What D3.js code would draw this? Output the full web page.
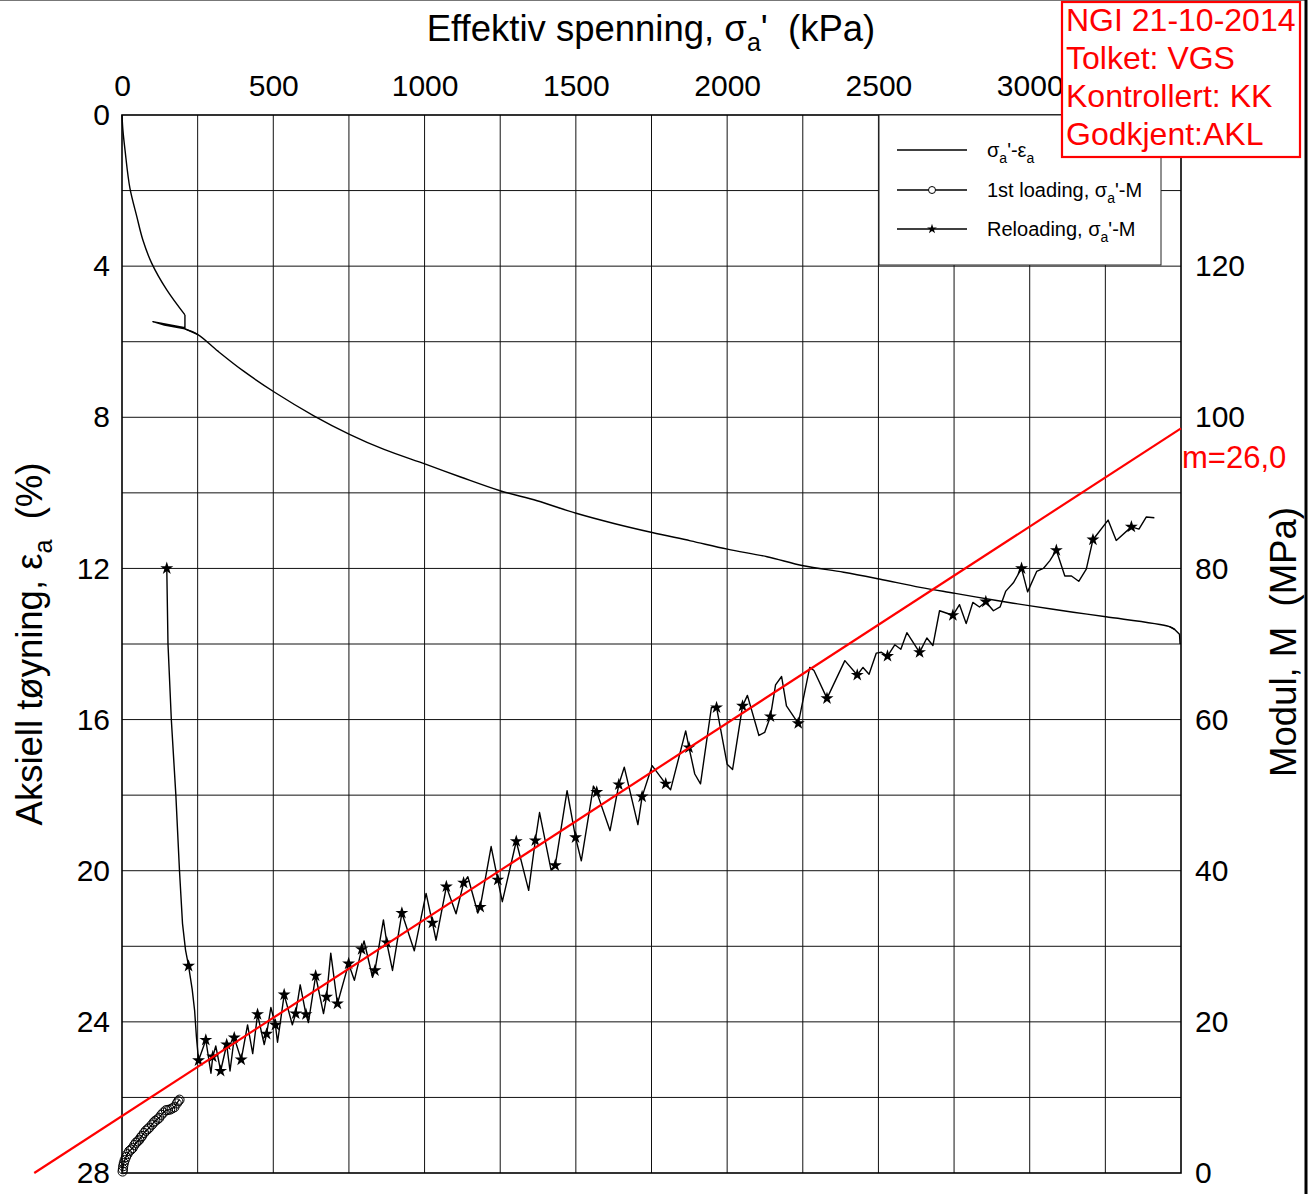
<!DOCTYPE html>
<html>
<head>
<meta charset="utf-8">
<script src="https://cdn.jsdelivr.net/npm/d3@7"></script>
<style>
  body { margin: 0; background: #fff; }
  svg { display: block; }
  text { font-family: "Liberation Sans", Arial, Helvetica, sans-serif; white-space: pre; }
</style>
</head>
<body>
<svg id="chart" width="1315" height="1194"></svg>
<script>
// ---- Oedometer test: stress-strain curve and constrained modulus ----

// Axis ticks (the top-right corner is taken by the stamp)
const stressTicks = [0, 500, 1000, 1500, 2000, 2500, 3000];
const strainTicks = [0, 4, 8, 12, 16, 20, 24, 28];
const modulusTicks = [0, 20, 40, 60, 80, 100, 120];

// Effective axial stress (kPa) vs axial strain (%)
const strainStress = [0, 3, 10, 26, 49, 69, 98, 148, 208, 208, 102, 140, 208, 251, 317, 402, 507, 634, 752, 866,
  1003, 1119, 1252, 1372, 1501, 1626, 1752, 1879, 2001, 2132, 2252, 2385, 2503, 2638, 2754, 2891, 3003, 3144, 3252, 3462,
  3480, 3495, 3497];
const strainPct = [0, 0.4, 0.93, 1.93, 2.69, 3.31, 3.92, 4.63, 5.29, 5.63, 5.47, 5.56, 5.66, 5.81, 6.25, 6.78, 7.35, 7.96, 8.45, 8.85,
  9.24, 9.58, 9.95, 10.21, 10.54, 10.81, 11.05, 11.27, 11.49, 11.69, 11.93, 12.10, 12.28, 12.50, 12.66, 12.85, 12.99, 13.16, 13.28, 13.54,
  13.62, 13.74, 14.0];
// index ranges of the curve: first loading, unload/reload loop, main loading, end of test
const strainSegments = [[0, 8, "smooth"], [8, 13, "linear"], [12, 40, "smooth"], [39, 42, "linear"]];

// 1st loading: stress (kPa) vs modulus (MPa)
const firstLoadStress = [2, 3, 4, 6, 9, 13, 18, 24, 30, 35, 41, 46, 52, 57, 62, 66, 73, 79, 85, 90,
  99, 105, 110, 117, 123, 130, 137, 145, 152, 159, 166, 173, 181, 186, 190];
const firstLoadModulus = [0.2, 0.5, 0.9, 1.3, 1.7, 2.1, 2.5, 2.9, 3.1, 3.3, 3.7, 4.0, 4.2, 4.4, 4.7, 4.9, 5.3, 5.6, 5.8, 6.0,
  6.4, 6.7, 6.9, 7.1, 7.3, 7.7, 8.0, 8.3, 8.35, 8.4, 8.55, 8.7, 9.2, 9.5, 9.7];

// Reloading: stress (kPa) vs modulus (MPa)
const reloadStress = [148, 152, 163, 178, 190, 200, 210, 220, 232, 240, 246, 253, 277, 294, 300, 310, 326, 346, 357, 371,
  394, 415, 432, 448, 470, 478, 492, 507, 514, 536, 563, 574, 589, 608, 616, 640, 666, 676, 690, 712,
  749, 768, 792, 800, 828, 836, 864, 875, 894, 925, 966, 1005, 1026, 1038, 1072, 1104, 1129, 1143, 1176, 1184,
  1220, 1242, 1257, 1303, 1344, 1366, 1380, 1418, 1432, 1471, 1499, 1518, 1558, 1569, 1613, 1642, 1660, 1705, 1719, 1752,
  1797, 1813, 1863, 1874, 1893, 1912, 1948, 1965, 2000, 2018, 2051, 2067, 2105, 2124, 2143, 2160, 2180, 2196, 2235, 2273,
  2287, 2330, 2389, 2430, 2449, 2469, 2493, 2510, 2530, 2554, 2574, 2594, 2636, 2660, 2680, 2702, 2724, 2746, 2768, 2790,
  2812, 2834, 2855, 2880, 2902, 2921, 2946, 2973, 2993, 3023, 3045, 3066, 3088, 3116, 3138, 3162, 3187, 3209, 3259, 3286,
  3336, 3361, 3385, 3412];
const reloadModulus = [80, 70, 60, 50, 40, 33, 29.5, 27.4, 24.3, 21.5, 18, 14.9, 17.6, 13.2, 15.4, 16.8, 13.5, 17.0, 13.5, 17.9,
  15.0, 19.6, 15.8, 21.0, 17.0, 18.4, 21.9, 19.6, 17.3, 23.6, 19.6, 21.1, 24.9, 21.0, 19.9, 26.1, 21.1, 23.3, 29.1, 22.4,
  27.7, 25.5, 29.6, 30.7, 25.9, 26.8, 33.5, 30.5, 26.8, 34.4, 29.4, 37.0, 33.1, 30.8, 37.9, 34.3, 38.4, 39.2, 34.4, 35.2,
  43.2, 38.8, 35.9, 43.9, 37.4, 44.0, 47.7, 40.1, 40.7, 50.6, 44.4, 41.3, 51.2, 50.4, 45.3, 51.4, 53.7, 46.1, 49.8, 53.9,
  51.5, 50.7, 58.5, 56.3, 52.8, 51.5, 61.6, 61.6, 54.1, 53.4, 61.8, 63.2, 57.9, 58.3, 60.4, 64.6, 65.7, 61.8, 59.5, 66.9,
  66.5, 62.8, 67.8, 65.9, 66.9, 66.0, 68.8, 68.9, 68.4, 69.9, 69.3, 71.5, 68.9, 70.8, 69.8, 74.4, 74.1, 73.8, 75.2, 72.7,
  75.5, 74.9, 75.6, 74.4, 74.9, 77.0, 78.1, 80.0, 76.9, 79.6, 80.0, 81.0, 82.4, 79.0, 79.0, 78.3, 79.9, 83.8, 86.4, 83.7,
  85.5, 85.2, 86.8, 86.7];
// reloading readings that carry a star marker
const reloadMarkerIdx = [0, 7, 11, 12, 14, 16, 17, 19, 20, 23, 25, 27, 29, 31, 33, 35, 37, 39, 40, 42, 45, 47, 49,
  52, 54, 56, 59, 61, 63, 65, 68, 70, 73, 75, 78, 80, 83, 87, 90, 94, 98, 101, 103, 108, 112, 117, 122, 127, 132, 137, 140];

// Modulus number line M = m (sigma' + a)
const modulusNumber = 26.0;      // m
const attraction = 290;          // a (kPa)
const lineStressEnd = 3500;

// Stamp text
const stampLines = ["NGI 21-10-2014", "Tolket: VGS", "Kontrollert: KK", "Godkjent:AKL"];

// ---- layout ----
const svg = d3.select("#chart");
const plotLeft = 122, plotRight = 1181, plotTop = 115, plotBottom = 1173;

const x = d3.scaleLinear().domain([0, 3500]).range([plotLeft, plotRight]);
const yS = d3.scaleLinear().domain([0, 28]).range([plotTop, plotBottom]);
const yM = d3.scaleLinear().domain([0, 140]).range([plotBottom, plotTop]);

// figure edges
svg.append("line").attr("x1", 0).attr("x2", 1307).attr("y1", 0.5).attr("y2", 0.5)
  .attr("stroke", "#777").attr("stroke-width", 1);
svg.append("line").attr("x1", 1306).attr("x2", 1306).attr("y1", 0).attr("y2", 1194)
  .attr("stroke", "#000").attr("stroke-width", 3);

// grid
const grid = svg.append("g").attr("stroke", "#111").attr("stroke-width", 1);
d3.range(250, 3500, 250).forEach(v => {
  grid.append("line").attr("x1", x(v)).attr("x2", x(v)).attr("y1", plotTop).attr("y2", plotBottom);
});
d3.range(2, 28, 2).forEach(v => {
  grid.append("line").attr("x1", plotLeft).attr("x2", plotRight).attr("y1", yS(v)).attr("y2", yS(v));
});

// plot frame
svg.append("rect").attr("x", plotLeft).attr("y", plotTop)
  .attr("width", plotRight - plotLeft).attr("height", plotBottom - plotTop)
  .attr("fill", "none").attr("stroke", "#000").attr("stroke-width", 1.6);

// axes (labels only)
function styleAxis(g) {
  g.select(".domain").remove();
  g.selectAll("line").remove();
  g.selectAll("text").attr("font-size", 30).attr("fill", "#000")
    .attr("font-family", "'Liberation Sans', Arial, sans-serif");
}
svg.append("g").attr("transform", `translate(0,${plotTop})`)
  .call(d3.axisTop(x).tickValues(stressTicks).tickSize(0).tickPadding(19).tickFormat(d3.format("d")))
  .call(styleAxis);
svg.append("g").attr("transform", `translate(${plotLeft},0)`)
  .call(d3.axisLeft(yS).tickValues(strainTicks).tickSize(0).tickPadding(12).tickFormat(d3.format("d")))
  .call(styleAxis);
svg.append("g").attr("transform", `translate(${plotRight},0)`)
  .call(d3.axisRight(yM).tickValues(modulusTicks).tickSize(0).tickPadding(14).tickFormat(d3.format("d")))
  .call(styleAxis);

// text with subscript parts
function richText(sel, parts, size) {
  const subSize = Math.round(size * 0.68);
  const shift = size * 0.28;
  parts.forEach(p => {
    const t = sel.append("tspan").text(p.t);
    if (p.sub) { t.attr("font-size", subSize).attr("dy", shift); }
    else { t.attr("font-size", size); if (p.after) t.attr("dy", -shift); }
  });
}

// axis titles
const titleSize = 36.5;
richText(svg.append("text").attr("x", 651).attr("y", 41).attr("text-anchor", "middle"),
  [{ t: "Effektiv spenning, σ" }, { t: "a", sub: true }, { t: "'  (kPa)", after: true }], titleSize);
richText(svg.append("text").attr("transform", "translate(42,644) rotate(-90)").attr("text-anchor", "middle"),
  [{ t: "Aksiell tøyning, ε" }, { t: "a", sub: true }, { t: "  (%)", after: true }], titleSize);
svg.append("text").attr("transform", "translate(1296,642) rotate(-90)").attr("text-anchor", "middle")
  .attr("font-size", titleSize).text("Modul, M  (MPa)");

// stress-strain curve, drawn piecewise: smooth loading branches, straight loop and end
const strainData = strainStress.map((s, i) => [s, strainPct[i]]);
strainSegments.forEach(([a, b, kind]) => {
  const gen = d3.line().x(d => x(d[0])).y(d => yS(d[1]))
    .curve(kind === "smooth" ? d3.curveCatmullRom.alpha(0.5) : d3.curveLinear);
  svg.append("path").datum(strainData.slice(a, b + 1))
    .attr("d", gen).attr("fill", "none").attr("stroke", "#000").attr("stroke-width", 1.4)
    .attr("stroke-linejoin", "round");
});

// modulus curves
const modLine = d3.line().x(d => x(d[0])).y(d => yM(d[1]));
const firstData = firstLoadStress.map((s, i) => [s, firstLoadModulus[i]]);
const reloadData = reloadStress.map((s, i) => [s, reloadModulus[i]]);

svg.append("path").datum(firstData).attr("d", modLine)
  .attr("fill", "none").attr("stroke", "#000").attr("stroke-width", 1.3);
svg.append("g").selectAll("circle").data(firstData).join("circle")
  .attr("cx", d => x(d[0])).attr("cy", d => yM(d[1])).attr("r", 4.6)
  .attr("fill", "none").attr("stroke", "#000").attr("stroke-width", 1);

svg.append("path").datum(reloadData).attr("d", modLine)
  .attr("fill", "none").attr("stroke", "#000").attr("stroke-width", 1.4).attr("stroke-linejoin", "round");
const star = d3.symbol().type(d3.symbolStar).size(52);
svg.append("g").selectAll("path").data(reloadMarkerIdx.map(i => reloadData[i])).join("path")
  .attr("transform", d => `translate(${x(d[0])},${yM(d[1])})`)
  .attr("d", star).attr("fill", "#000");

// modulus number line
const mLine = [[-attraction, 0], [lineStressEnd, modulusNumber * (lineStressEnd + attraction) / 1000]];
svg.append("path").datum(mLine).attr("d", modLine)
  .attr("fill", "none").attr("stroke", "#ff0000").attr("stroke-width", 2.2);
svg.append("text").attr("x", plotRight + 1).attr("y", yM(mLine[1][1]) + 40)
  .attr("fill", "#ff0000").attr("font-size", 31).text("m=" + d3.format(".1f")(modulusNumber).replace(".", ","));

// legend
const lg = svg.append("g");
lg.append("rect").attr("x", 879).attr("y", plotTop).attr("width", 282).attr("height", 150)
  .attr("fill", "#fff").attr("stroke", "#222").attr("stroke-width", 1);
const legendRows = [
  { y: 150, parts: [{ t: "σ" }, { t: "a", sub: true }, { t: "'-ε", after: true }, { t: "a", sub: true }], mark: null },
  { y: 190, parts: [{ t: "1st loading, σ" }, { t: "a", sub: true }, { t: "'-M", after: true }], mark: "circle" },
  { y: 229, parts: [{ t: "Reloading, σ" }, { t: "a", sub: true }, { t: "'-M", after: true }], mark: "star" }
];
legendRows.forEach(r => {
  lg.append("line").attr("x1", 897).attr("x2", 967).attr("y1", r.y).attr("y2", r.y)
    .attr("stroke", "#000").attr("stroke-width", 1.3);
  if (r.mark === "circle") {
    lg.append("circle").attr("cx", 932).attr("cy", r.y).attr("r", 3.5)
      .attr("fill", "#fff").attr("stroke", "#000").attr("stroke-width", 1);
  } else if (r.mark === "star") {
    lg.append("path").attr("transform", `translate(932,${r.y})`)
      .attr("d", d3.symbol().type(d3.symbolStar).size(30)).attr("fill", "#000");
  }
  richText(lg.append("text").attr("x", 987).attr("y", r.y + 7), r.parts, 20);
});

// stamp
const st = svg.append("g");
st.append("rect").attr("x", 1062).attr("y", 2).attr("width", 238).attr("height", 155)
  .attr("fill", "#fff").attr("stroke", "#ff0000").attr("stroke-width", 2.2);
stampLines.forEach((s, i) => {
  st.append("text").attr("x", 1066).attr("y", 31 + i * 38).attr("fill", "#ff0000")
    .attr("font-size", 32).text(s);
});
</script>
</body>
</html>
